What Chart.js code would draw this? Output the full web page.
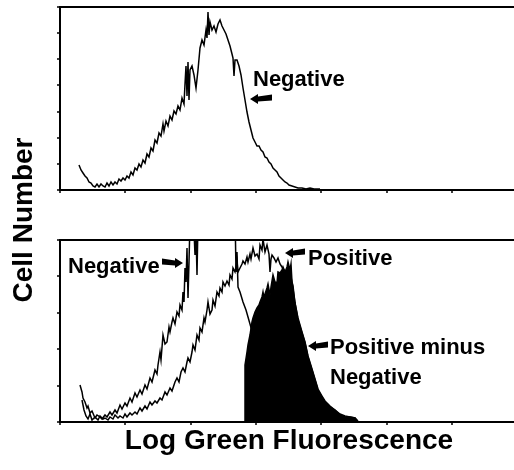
<!DOCTYPE html>
<html>
<head>
<meta charset="utf-8">
<script src="https://cdn.jsdelivr.net/npm/chart.js@4/dist/chart.umd.min.js"></script>
<style>
  body { margin: 0; background: #fff; }
  #wrap { position: relative; width: 514px; height: 470px; overflow: hidden; }
  canvas { position: absolute; left: 0; }
  .title { position: absolute; font: bold 28px "Liberation Sans", Arial, sans-serif; line-height: 28px; color: #000; white-space: nowrap; text-align: center; }
</style>
</head>
<body>
<div id="wrap">
  <canvas id="topChart" width="514" height="200" style="top:0"></canvas>
  <canvas id="botChart" width="514" height="200" style="top:230px"></canvas>
  <div class="title" style="left:0; width:578px; top:426px;">Log Green Fluorescence</div>
  <div class="title" style="left:-77px; top:206px; width:200px; transform:rotate(-90deg);">Cell Number</div>
</div>
<script>
// x = fluorescence channel, y = cell count (axes carry no numbers)
const xTicks = [0, 65, 131, 196, 261, 327, 392];
const topYTicks = [0, 26, 52, 78, 105, 131, 157, 183];
const botYTicks = [0, 36, 73, 109, 146, 182];

// upper panel: negative control
const topNegative = [[19,25],[21,20],[23,17],[25,14],[27,12],[29,8],[31,7],[33,4],[35,3],[37,6],[39,3],[41,6],[43,4],[45,3],[47,7],[49,4],[51,8],[53,5],[55,8],[57,6],[59,11],[61,9],[63,12],[65,10],[67,14],[69,12],[71,18],[73,15],[75,22],[77,20],[79,26],[81,23],[83,30],[85,27],[87,36],[89,33],[91,42],[93,39],[95,50],[97,47],[99,57],[101,54],[103,66],[104,59],[106,69],[108,64],[110,74],[112,70],[114,79],[116,76],[118,84],[120,80],[122,92],[124,86],[125,106],[126,124],[127,94],[128,128],[129,90],[130,120],[132,124],[134,115],[136,102],[138,120],[140,142],[142,150],[144,145],[146,160],[147,152],[148,178],[149,155],[150,168],[152,160],[154,164],[156,158],[158,166],[160,170],[162,164],[164,160],[166,156],[168,150],[170,144],[172,136],[173,132],[174,114],[175,130],[177,130],[179,124],[181,115],[183,102],[185,90],[187,78],[189,68],[191,60],[193,52],[195,48],[197,44],[199,44],[201,40],[203,38],[205,33],[207,32],[209,28],[211,26],[213,22],[215,20],[217,18],[219,14],[221,12],[223,10],[225,8],[227,7],[229,5],[232,4],[235,3],[238,2],[242,2],[246,1],[250,2],[254,1],[260,1]];

// lower panel: negative, positive and the difference
const botNegative = [[20,37],[22,30],[23,24],[25,20],[27,14],[28,16],[30,9],[32,11],[35,4],[37,7],[40,5],[42,3],[45,7],[47,5],[50,10],[52,7],[55,12],[57,9],[60,17],[62,13],[65,19],[67,16],[70,24],[72,20],[75,29],[77,25],[80,32],[82,28],[85,37],[87,33],[90,44],[92,40],[95,52],[97,48],[98,57],[100,70],[101,62],[103,87],[105,78],[107,80],[109,95],[110,90],[112,100],[113,104],[115,98],[117,110],[119,106],[120,117],[122,112],[123,130],[124,120],[125,154],[126,140],[127,174],[128,124],[129,160],[130,200],[133,215],[135,167],[136,190],[137,147],[138,200],[150,230],[165,225],[175,210],[176,150],[177,170],[178,135],[180,130],[183,120],[186,112],[190,98],[193,87],[196,76],[200,55],[205,45],[210,35],[215,28],[220,22],[225,16],[230,10],[235,6],[240,4],[250,2],[260,1]];

const botPositive = [[22,22],[24,12],[26,6],[28,3],[30,8],[32,2],[35,5],[38,2],[40,6],[43,3],[45,4],[48,2],[50,5],[53,3],[55,7],[58,4],[60,6],[63,4],[65,8],[67,5],[70,9],[72,7],[75,10],[77,8],[80,14],[82,11],[85,16],[87,13],[90,20],[92,17],[95,21],[97,19],[100,24],[102,22],[105,30],[107,27],[110,34],[112,31],[115,40],[117,44],[119,40],[121,50],[123,54],[125,50],[127,60],[128,64],[130,60],[132,70],[133,77],[135,72],[137,87],[139,82],[140,94],[142,90],[144,104],[145,100],[147,112],[148,120],[150,108],[152,112],[153,122],[155,116],[157,130],[159,126],[160,134],[162,130],[163,140],[165,136],[167,141],[169,137],[170,147],[172,143],[173,154],[175,150],[177,161],[178,150],[180,154],[182,158],[183,161],[185,158],[187,165],[188,160],[190,168],[191,163],[193,174],[195,166],[197,168],[199,163],[200,177],[202,172],[203,183],[205,170],[207,177],[209,168],[210,150],[211,163],[212,167],[214,164],[216,160],[218,164],[220,158],[222,155],[224,152],[226,150],[228,146],[230,150],[232,140],[235,119],[238,104],[242,90],[245,80],[248,66],[252,53],[255,43],[258,33],[262,26],[265,21],[270,16],[275,12],[280,8],[285,6],[290,5],[295,4],[298,1]];

const botDifference = [[185,0],[185,57],[187,70],[188,77],[190,87],[192,100],[193,104],[195,110],[197,114],[199,117],[200,120],[202,125],[203,130],[204,124],[205,128],[207,134],[208,138],[210,127],[211,135],[213,147],[215,140],[217,139],[218,150],[220,149],[222,152],[223,155],[225,150],[227,155],[228,160],[230,152],[231,158],[232,140],[233,136],[235,119],[238,102],[242,89],[245,79],[248,65],[252,52],[255,42],[258,32],[262,25],[265,20],[270,15],[275,12],[280,7],[285,5],[290,5],[295,4],[297,1],[298,0]];

// annotations: text left/baseline and arrows (tip, tail, y) in data units
const topLabels = [{ text: 'Negative', x: 193, y: 104 }];
const topArrows = [{ tip: 190, tail: 212, y: 91 }];
const botLabels = [
  { text: 'Negative', x: 8, y: 149 },
  { text: 'Positive', x: 248, y: 157 },
  { text: 'Positive minus', x: 270, y: 68 },
  { text: 'Negative', x: 270, y: 38 }
];
const botArrows = [
  { tip: 123, tail: 102, y: 159 },
  { tip: 225, tail: 245, y: 169 },
  { tip: 248, tail: 268, y: 76 }
];

const pts = arr => arr.map(p => ({ x: p[0], y: p[1] }));

function drawArrow(ctx, tip, tail, y) {
  const d = tail > tip ? 1 : -1;
  const h = tip + d * 8;
  ctx.beginPath();
  ctx.moveTo(tip, y);
  ctx.lineTo(h, y - 5);
  ctx.lineTo(h, y - 2.5);
  ctx.lineTo(tail, y - 4.5);
  ctx.lineTo(tail, y + 1.5);
  ctx.lineTo(h, y + 2.5);
  ctx.lineTo(h, y + 5);
  ctx.closePath();
  ctx.fill();
}

// frame, tick marks and the labels
function framePlugin(yTicks, labels, arrows) {
  return {
    id: 'frame',
    afterDraw(chart) {
      const { ctx, chartArea: a, scales: { x, y } } = chart;
      ctx.save();
      ctx.strokeStyle = '#000';
      ctx.fillStyle = '#000';
      ctx.lineWidth = 2;
      ctx.beginPath();
      ctx.moveTo(a.right, a.top);
      ctx.lineTo(a.left, a.top);
      ctx.lineTo(a.left, a.bottom);
      ctx.lineTo(a.right, a.bottom);
      ctx.stroke();
      ctx.lineWidth = 1.5;
      ctx.beginPath();
      yTicks.forEach(v => {
        const py = Math.round(y.getPixelForValue(v));
        ctx.moveTo(a.left - 3, py);
        ctx.lineTo(a.left, py);
      });
      xTicks.forEach(v => {
        const px = Math.round(x.getPixelForValue(v));
        ctx.moveTo(px, a.bottom);
        ctx.lineTo(px, a.bottom + 3);
      });
      ctx.stroke();
      ctx.font = 'bold 22px "Liberation Sans", Arial, sans-serif';
      ctx.textBaseline = 'alphabetic';
      labels.forEach(l => ctx.fillText(l.text, x.getPixelForValue(l.x), y.getPixelForValue(l.y)));
      arrows.forEach(r => drawArrow(ctx, x.getPixelForValue(r.tip), x.getPixelForValue(r.tail), y.getPixelForValue(r.y)));
      ctx.restore();
    }
  };
}

function lineSet(data, fill) {
  return {
    data: pts(data),
    borderColor: '#000',
    backgroundColor: '#000',
    borderWidth: 1.5,
    pointRadius: 0,
    tension: 0,
    fill: fill ? 'origin' : false
  };
}

function opts(yMax, pad) {
  return {
    responsive: false,
    animation: false,
    devicePixelRatio: 1,
    layout: { padding: pad },
    plugins: { legend: { display: false }, tooltip: { enabled: false } },
    scales: {
      x: { type: 'linear', min: 0, max: 454, display: false },
      y: { min: 0, max: yMax, display: false }
    }
  };
}

new Chart(document.getElementById('topChart'), {
  type: 'line',
  data: { datasets: [lineSet(topNegative, false)] },
  options: opts(183, { left: 60, right: 0, top: 7, bottom: 10 }),
  plugins: [framePlugin(topYTicks, topLabels, topArrows)]
});

new Chart(document.getElementById('botChart'), {
  type: 'line',
  data: { datasets: [lineSet(botDifference, true), lineSet(botNegative, false), lineSet(botPositive, false)] },
  options: opts(182, { left: 60, right: 0, top: 10, bottom: 8 }),
  plugins: [framePlugin(botYTicks, botLabels, botArrows)]
});
</script>
</body>
</html>
